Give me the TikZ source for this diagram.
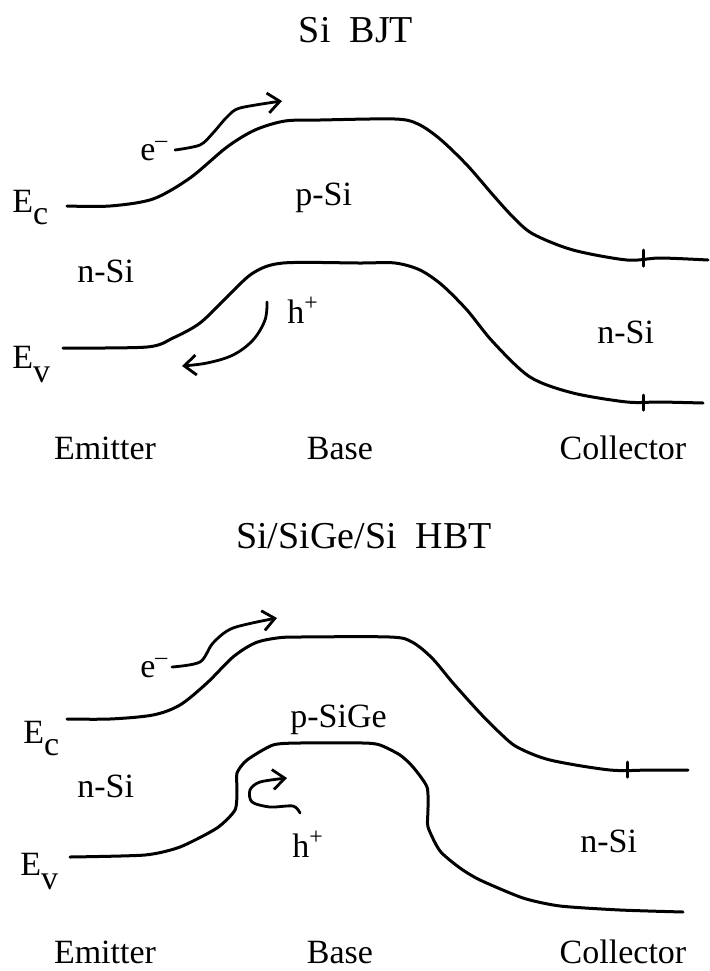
\documentclass[tikz,border=0pt]{standalone}
\usepackage{fontspec}
\setmainfont{Liberation Serif}
\usetikzlibrary{arrows.meta}

\begin{document}
\begin{tikzpicture}[x=0.5pt,y=-0.5pt,>={Straight Barb[length=6pt,width=10pt]}, every node/.style={font=\fontsize{17}{20}\selectfont,inner sep=0pt}]
\tikzstyle{band}=[line width=1.5pt,line join=round,line cap=round]
\tikzstyle{carrier}=[line width=1.4pt,line cap=round,->]
\tikzstyle{lbl}=[anchor=base west]
\tikzstyle{region}=[anchor=base]
\useasboundingbox (0,0) rectangle (709,971);
% ---- Si BJT ----
\node[region,font=\fontsize{19}{22}\selectfont] (bjt) at (356,42) {Si\ \ BJT};
\draw[band] plot[smooth,tension=0.5] coordinates {(67,206) (110,206) (153,199) (190,178) (227,147) (255,130) (285,121) (320,120) (395,119) (418,124) (440,139) (467,165) (493,195) (513,217) (533,234) (573,250) (627,260) (660,258) (708,260)};
\draw[band] plot[smooth,tension=0.5] coordinates {(63,348) (147,347) (173,338) (200,323) (227,297) (253,273) (283,263) (360,263) (395,263) (420,270) (442,285) (467,310) (493,342) (530,377) (573,393) (627,402) (660,402) (703,403)};
\draw[band] (643,250) -- (643,266);
\draw[band] (643,395) -- (643,410);
\draw[carrier] plot[smooth,tension=0.5] coordinates {(175,150) (200,145) (213,133) (227,117) (240,108) (282,101)};
\draw[carrier] plot[smooth,tension=0.6] coordinates {(267,302) (265,320) (253,340) (233,355) (207,363) (182,366)};
\node[lbl] (ec1) at (12,212) {E\raisebox{-6pt}{c}};
\node[lbl] (ev1) at (12,368) {E\raisebox{-7pt}{v}};
\node[lbl] (el1) at (140,160) {e\textsuperscript{--}};
\node[lbl] (hl1) at (287,323) {h\textsuperscript{+}};
\node[lbl] (ns1) at (77,282) {n-Si};
\node[lbl] (ps1) at (295,205) {p-Si};
\node[lbl] (nc1) at (597,343) {n-Si};
\node[region] (em1) at (105,459) {Emitter};
\node[region] (ba1) at (340,459) {Base};
\node[region] (co1) at (623,459) {Collector};
% ---- Si/SiGe/Si HBT ----
\node[region,font=\fontsize{19}{22}\selectfont] (hbt) at (364,548) {Si/SiGe/Si\ \ HBT};
\draw[band] plot[smooth,tension=0.5] coordinates {(67,719) (110,719) (153,715) (180,705) (207,683) (233,657) (255,643) (277,638) (300,637) (390,637) (412,642) (432,658) (453,683) (480,713) (500,733) (517,747) (550,760) (610,770) (650,770) (688,770)};
\draw[band] plot[smooth,tension=0.4] coordinates {(70,857) (145,855) (180,847) (217,828) (235,810) (237,790) (237,773) (247,760) (273,745) (300,743) (363,743) (380,745) (400,755) (413,767) (427,787) (428,810) (428,827) (440,851) (460,868) (480,880) (523,898) (560,906) (620,910) (683,912)};
\draw[band] (627,762) -- (627,777);
\draw[carrier] plot[smooth,tension=0.5] coordinates {(172,667) (200,662) (213,643) (233,628) (277,618)};
\draw[carrier] plot[smooth,tension=0.5] coordinates {(300,813) (293,806) (270,807) (252,802) (250,790) (260,782) (287,778)};
\node[lbl] (ec2) at (23,743) {E\raisebox{-6pt}{c}};
\node[lbl] (ev2) at (20,875) {E\raisebox{-7pt}{v}};
\node[lbl] (el2) at (140,677) {e\textsuperscript{--}};
\node[lbl] (hl2) at (292,857) {h\textsuperscript{+}};
\node[lbl] (ns2) at (77,797) {n-Si};
\node[lbl] (ps2) at (290,727) {p-SiGe};
\node[lbl] (nc2) at (580,852) {n-Si};
\node[region] (em2) at (105,963) {Emitter};
\node[region] (ba2) at (340,963) {Base};
\node[region] (co2) at (623,963) {Collector};
\end{tikzpicture}
\end{document}
